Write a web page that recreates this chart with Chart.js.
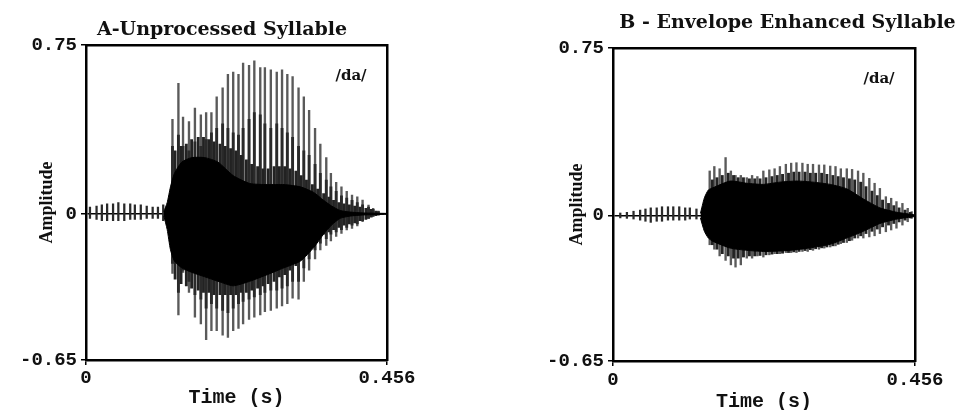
<!DOCTYPE html>
<html><head><meta charset="utf-8">
<script src="https://cdn.jsdelivr.net/npm/chart.js@4"></script>
<style>
html,body{margin:0;padding:0;background:#fff;overflow:hidden;width:961px;height:410px;position:relative;}
canvas{position:absolute;top:0;filter:blur(0.35px);}
#cA{left:0;} #cB{left:480px;}
</style></head><body>
<canvas id="cA" width="444" height="410"></canvas>
<canvas id="cB" width="615" height="410"></canvas>
<script>
// ---- axis ticks & texts ----
const X_TICKS = [0, 0.456];
const X_TICK_LABELS = ['0', '0.456'];
const Y_TICKS = [0.75, 0, -0.65];
const Y_TICK_LABELS = ['0.75', '0', '-0.65'];
const TITLE_A = 'A-Unprocessed Syllable';
const TITLE_B = 'B - Envelope Enhanced Syllable';
const X_TITLE = 'Time (s)';
const Y_TITLE = 'Amplitude';
const SYLLABLE = '/da/';

// ---- Panel A: unprocessed ----
const A_NOISE_T  = [0.006,0.016,0.024,0.032,0.041,0.049,0.058,0.067,0.074,0.083,0.092,0.101,0.109,0.117];
const A_NOISE_HI = [0.03,0.035,0.04,0.045,0.045,0.05,0.045,0.045,0.04,0.04,0.035,0.03,0.03,0.04];
const A_NOISE_LO = [-0.02,-0.025,-0.03,-0.03,-0.03,-0.03,-0.03,-0.025,-0.025,-0.025,-0.02,-0.02,-0.02,-0.03];

const A_PULSE_T  = [0.131,0.140,0.147,0.156,0.165,0.174,0.182,0.190,0.198,0.207,0.215,0.223,0.231,0.238,0.247,0.255,0.264,0.271,0.280,0.289,0.297,0.305,0.313,0.322,0.330,0.338,0.347,0.355,0.364,0.371,0.379,0.387,0.395,0.403,0.411,0.419,0.428,0.435,0.443];
const A_PULSE_HI = [0.42,0.58,0.43,0.41,0.47,0.44,0.45,0.45,0.52,0.56,0.62,0.63,0.62,0.67,0.66,0.68,0.65,0.65,0.64,0.63,0.64,0.62,0.61,0.56,0.52,0.46,0.38,0.31,0.25,0.18,0.14,0.12,0.10,0.083,0.076,0.061,0.039,0.024,0.012];
const A_PULSE_LO = [-0.265,-0.45,-0.26,-0.35,-0.46,-0.49,-0.56,-0.52,-0.52,-0.54,-0.55,-0.52,-0.51,-0.49,-0.47,-0.46,-0.45,-0.435,-0.43,-0.42,-0.41,-0.40,-0.375,-0.38,-0.30,-0.25,-0.20,-0.16,-0.14,-0.12,-0.10,-0.087,-0.072,-0.065,-0.054,-0.035,-0.02,-0.012,-0.006];
const A_MID_HI   = [0.30,0.35,0.30,0.28,0.32,0.30,0.33,0.36,0.38,0.40,0.38,0.36,0.35,0.38,0.42,0.45,0.44,0.40,0.38,0.40,0.38,0.36,0.34,0.30,0.28,0.26,0.22,0.18,0.15,0.12,0.10,0.08,0.07,0.06,0.05,0.04,0.03,0.02,0.01];
const A_MID_LO   = [-0.22,-0.35,-0.25,-0.30,-0.36,-0.38,-0.42,-0.40,-0.42,-0.43,-0.44,-0.42,-0.40,-0.39,-0.38,-0.37,-0.36,-0.35,-0.34,-0.34,-0.33,-0.32,-0.30,-0.30,-0.24,-0.20,-0.16,-0.13,-0.11,-0.09,-0.08,-0.07,-0.06,-0.05,-0.045,-0.03,-0.02,-0.01,-0.005];

const A_INTER_T  = [0.135,0.144,0.152,0.160,0.170,0.178,0.186,0.194,0.203,0.211,0.219,0.227,0.235,0.243,0.251,0.260,0.268,0.276,0.285,0.293,0.301,0.309,0.318,0.326,0.334,0.343,0.351,0.360,0.368,0.375,0.383,0.391,0.399,0.407,0.415,0.424,0.432,0.439];
const A_INTER_HI = [0.28,0.30,0.31,0.33,0.34,0.34,0.33,0.32,0.31,0.30,0.29,0.28,0.26,0.24,0.22,0.21,0.20,0.20,0.21,0.21,0.21,0.20,0.19,0.17,0.15,0.13,0.11,0.09,0.075,0.06,0.05,0.045,0.04,0.035,0.03,0.025,0.02,0.012];
const A_INTER_LO = [-0.29,-0.31,-0.32,-0.33,-0.34,-0.35,-0.35,-0.36,-0.36,-0.36,-0.36,-0.36,-0.35,-0.35,-0.34,-0.33,-0.32,-0.31,-0.30,-0.28,-0.27,-0.25,-0.23,-0.20,-0.17,-0.14,-0.11,-0.09,-0.08,-0.07,-0.06,-0.05,-0.045,-0.04,-0.03,-0.025,-0.015,-0.008];

const A_CORE_T  = [0.118,0.123,0.128,0.134,0.145,0.160,0.180,0.200,0.223,0.248,0.275,0.300,0.325,0.345,0.360,0.372,0.385,0.400,0.420,0.456];
const A_CORE_HI = [0.01,0.05,0.12,0.18,0.23,0.25,0.25,0.23,0.17,0.135,0.13,0.13,0.12,0.095,0.06,0.035,0.015,0.008,0.004,0.002];
const A_CORE_LO = [-0.01,-0.07,-0.16,-0.21,-0.24,-0.26,-0.28,-0.30,-0.32,-0.30,-0.27,-0.24,-0.21,-0.15,-0.09,-0.05,-0.02,-0.01,-0.005,-0.002];

// ---- Panel B: envelope enhanced ----
const B_NOISE_T  = [0.011,0.021,0.031,0.041,0.049,0.057,0.066,0.074,0.083,0.091,0.100,0.109,0.116,0.126];
const B_NOISE_HI = [0.012,0.015,0.02,0.025,0.03,0.035,0.035,0.04,0.04,0.04,0.04,0.035,0.035,0.03];
const B_NOISE_LO = [-0.01,-0.012,-0.015,-0.02,-0.025,-0.03,-0.025,-0.025,-0.02,-0.02,-0.02,-0.02,-0.015,-0.015];

const B_PULSE_T  = [0.146,0.153,0.161,0.170,0.178,0.185,0.193,0.202,0.210,0.218,0.227,0.236,0.244,0.252,0.261,0.269,0.277,0.286,0.294,0.302,0.311,0.319,0.328,0.336,0.344,0.353,0.361,0.370,0.378,0.387,0.395,0.403,0.412,0.420,0.428,0.437,0.445,0.451];
const B_PULSE_HI = [0.20,0.22,0.21,0.26,0.20,0.18,0.18,0.17,0.18,0.175,0.20,0.205,0.21,0.22,0.23,0.235,0.237,0.235,0.23,0.23,0.227,0.227,0.222,0.22,0.21,0.21,0.207,0.20,0.19,0.167,0.145,0.122,0.085,0.078,0.063,0.055,0.033,0.018];
const B_PULSE_LO = [-0.13,-0.15,-0.18,-0.20,-0.22,-0.23,-0.22,-0.19,-0.19,-0.18,-0.185,-0.175,-0.17,-0.17,-0.165,-0.165,-0.165,-0.16,-0.16,-0.155,-0.15,-0.145,-0.14,-0.135,-0.125,-0.12,-0.11,-0.10,-0.10,-0.095,-0.09,-0.08,-0.072,-0.064,-0.056,-0.042,-0.027,-0.012];

const B_INTER_T  = [0.150,0.157,0.165,0.174,0.182,0.189,0.197,0.206,0.214,0.222,0.231,0.240,0.248,0.256,0.265,0.273,0.281,0.290,0.298,0.306,0.315,0.323,0.332,0.340,0.348,0.357,0.365,0.374,0.382,0.391,0.399,0.407,0.416,0.424,0.432,0.441,0.449];
const B_INTER_HI = [0.16,0.17,0.18,0.19,0.18,0.17,0.17,0.165,0.165,0.165,0.17,0.175,0.18,0.185,0.19,0.195,0.195,0.195,0.19,0.19,0.19,0.185,0.18,0.175,0.17,0.165,0.16,0.15,0.13,0.11,0.09,0.07,0.055,0.045,0.035,0.025,0.015];
const B_INTER_LO = [-0.13,-0.15,-0.17,-0.18,-0.19,-0.19,-0.185,-0.18,-0.18,-0.178,-0.175,-0.172,-0.17,-0.168,-0.165,-0.162,-0.16,-0.156,-0.152,-0.148,-0.144,-0.14,-0.135,-0.128,-0.12,-0.112,-0.10,-0.09,-0.08,-0.07,-0.06,-0.05,-0.042,-0.035,-0.028,-0.02,-0.01];

const B_CORE_T  = [0.132,0.138,0.144,0.151,0.177,0.202,0.227,0.252,0.278,0.302,0.328,0.353,0.378,0.403,0.429,0.456];
const B_CORE_HI = [0.01,0.08,0.115,0.125,0.155,0.145,0.14,0.15,0.155,0.15,0.14,0.12,0.075,0.035,0.015,0.004];
const B_CORE_LO = [-0.01,-0.07,-0.10,-0.115,-0.145,-0.155,-0.16,-0.158,-0.152,-0.142,-0.128,-0.10,-0.07,-0.035,-0.015,-0.004];

// ---- helpers ----
const pts = (T, V) => T.map((t, i) => ({x: t, y: V[i]}));
const spans = (T, LO, HI) => T.map((t, i) => ({x: t, y: [LO[i], HI[i]]}));

const labelPlugin = {
  id: 'syllableLabel',
  afterDatasetsDraw(chart, args, opts) {
    const {ctx, chartArea} = chart;
    ctx.save();
    ctx.font = 'bold 15px "DejaVu Serif"';
    ctx.fillStyle = '#111';
    ctx.textAlign = 'center';
    ctx.textBaseline = 'alphabetic';
    ctx.fillText(opts.text, chartArea.right - 36, chartArea.top + 35);
    ctx.restore();
  }
};

function buildChart(id, d, L) {
  const datasets = [
    {type: 'line', data: pts(d.coreT, d.coreHi), borderColor: '#000', backgroundColor: '#000',
     borderWidth: 1, pointRadius: 0, tension: 0.2, fill: '+1', order: 0},
    {type: 'line', data: pts(d.coreT, d.coreLo), borderColor: '#000', backgroundColor: '#000',
     borderWidth: 1, pointRadius: 0, tension: 0.2, fill: false, order: 0},
    {type: 'bar', data: spans(d.interT, d.interLo, d.interHi), backgroundColor: '#222',
     barThickness: 2.2, grouped: false, borderWidth: 0, order: 1}
  ];
  if (d.midHi) {
    datasets.push({type: 'bar', data: spans(d.pulseT, d.midLo, d.midHi), backgroundColor: '#2a2a2a',
      barThickness: 2.2, grouped: false, borderWidth: 0, order: 2});
  }
  datasets.push({type: 'bar', data: spans(d.pulseT, d.pulseLo, d.pulseHi), backgroundColor: '#5a5a5a',
    barThickness: 1.7, grouped: false, borderWidth: 0, order: 3});
  datasets.push({type: 'bar', data: spans(d.noiseT, d.noiseLo, d.noiseHi), backgroundColor: '#2a2a2a',
    barThickness: 1.6, grouped: false, borderWidth: 0, order: 4});

  const monoTick = {family: '"Liberation Mono", monospace', size: 19, weight: 'bold'};
  const frame = {display: true, color: '#000', width: 2.5};

  return new Chart(document.getElementById(id), {
    type: 'bar',
    data: {datasets},
    options: {
      responsive: false, animation: false, events: [],
      layout: {padding: 0},
      plugins: {
        legend: {display: false}, tooltip: {enabled: false},
        title: {display: true, text: d.title, color: '#111',
          font: {family: '"DejaVu Serif", serif', size: 19, weight: 'bold', lineHeight: 1.2},
          padding: {top: L.titleTop, bottom: L.titleBottom}},
        syllableLabel: {text: SYLLABLE}
      },
      scales: {
        x: {type: 'linear', position: 'bottom', min: 0, max: 0.456, offset: false,
          afterFit: s => { s.height = L.xH; },
          afterBuildTicks: s => { s.ticks = X_TICKS.map(v => ({value: v})); },
          ticks: {callback: (v, i) => X_TICK_LABELS[i], font: monoTick, color: '#111', padding: L.xTickPad,
                  maxRotation: 0, autoSkip: false},
          grid: {display: true, drawOnChartArea: false, drawTicks: true, tickLength: 5, color: '#000',
                 lineWidth: 1.5, offset: false},
          border: frame,
          title: {display: true, text: X_TITLE, color: '#111',
            font: {family: '"Liberation Mono", monospace', size: 20, weight: 'bold', lineHeight: 1},
            padding: {top: 0, bottom: L.xTitlePad}}
        },
        xTop: {type: 'linear', position: 'top', min: 0, max: 0.456, offset: false,
          afterFit: s => { s.height = 0; },
          ticks: {display: false}, grid: {display: false, drawTicks: false}, border: frame},
        y: {type: 'linear', position: 'left', min: -0.65, max: 0.75,
          afterFit: s => { s.width = L.yW; },
          afterBuildTicks: s => { s.ticks = Y_TICKS.map(v => ({value: v})); },
          ticks: {callback: (v, i) => Y_TICK_LABELS[i], font: monoTick, color: '#111', padding: 4, autoSkip: false},
          grid: {display: true, drawOnChartArea: true, drawTicks: true, tickLength: 5,
                 color: c => (c.tick && c.tick.value === 0) ? '#000' : 'rgba(0,0,0,0)',
                 tickColor: '#000', lineWidth: 1.5},
          border: frame,
          title: {display: true, text: Y_TITLE, color: '#111',
            font: {family: '"Liberation Serif", serif', size: 18, weight: 'bold', lineHeight: 1},
            padding: {top: L.yTitlePad, bottom: 0}}
        },
        yRight: {type: 'linear', position: 'right', min: -0.65, max: 0.75,
          afterFit: s => { s.width = L.yRW; },
          ticks: {display: false}, grid: {display: false, drawTicks: false}, border: frame}
      }
    },
    plugins: [labelPlugin]
  });
}

buildChart('cA', {
  title: TITLE_A,
  noiseT: A_NOISE_T, noiseHi: A_NOISE_HI, noiseLo: A_NOISE_LO,
  pulseT: A_PULSE_T, pulseHi: A_PULSE_HI, pulseLo: A_PULSE_LO,
  midHi: A_MID_HI, midLo: A_MID_LO,
  interT: A_INTER_T, interHi: A_INTER_HI, interLo: A_INTER_LO,
  coreT: A_CORE_T, coreHi: A_CORE_HI, coreLo: A_CORE_LO
}, {titleTop: 18.2, titleBottom: 4.2, xH: 50, yW: 86, yRW: 57, xTickPad: 2, xTitlePad: 2, yTitlePad: 38});

buildChart('cB', {
  title: TITLE_B,
  noiseT: B_NOISE_T, noiseHi: B_NOISE_HI, noiseLo: B_NOISE_LO,
  pulseT: B_PULSE_T, pulseHi: B_PULSE_HI, pulseLo: B_PULSE_LO,
  midHi: null, midLo: null,
  interT: B_INTER_T, interHi: B_INTER_HI, interLo: B_INTER_LO,
  coreT: B_CORE_T, coreHi: B_CORE_HI, coreLo: B_CORE_LO
}, {titleTop: 11.6, titleBottom: 13.6, xH: 49, yW: 133, yRW: 180, xTickPad: 3, xTitlePad: -2, yTitlePad: 88});
</script>
</body></html>
